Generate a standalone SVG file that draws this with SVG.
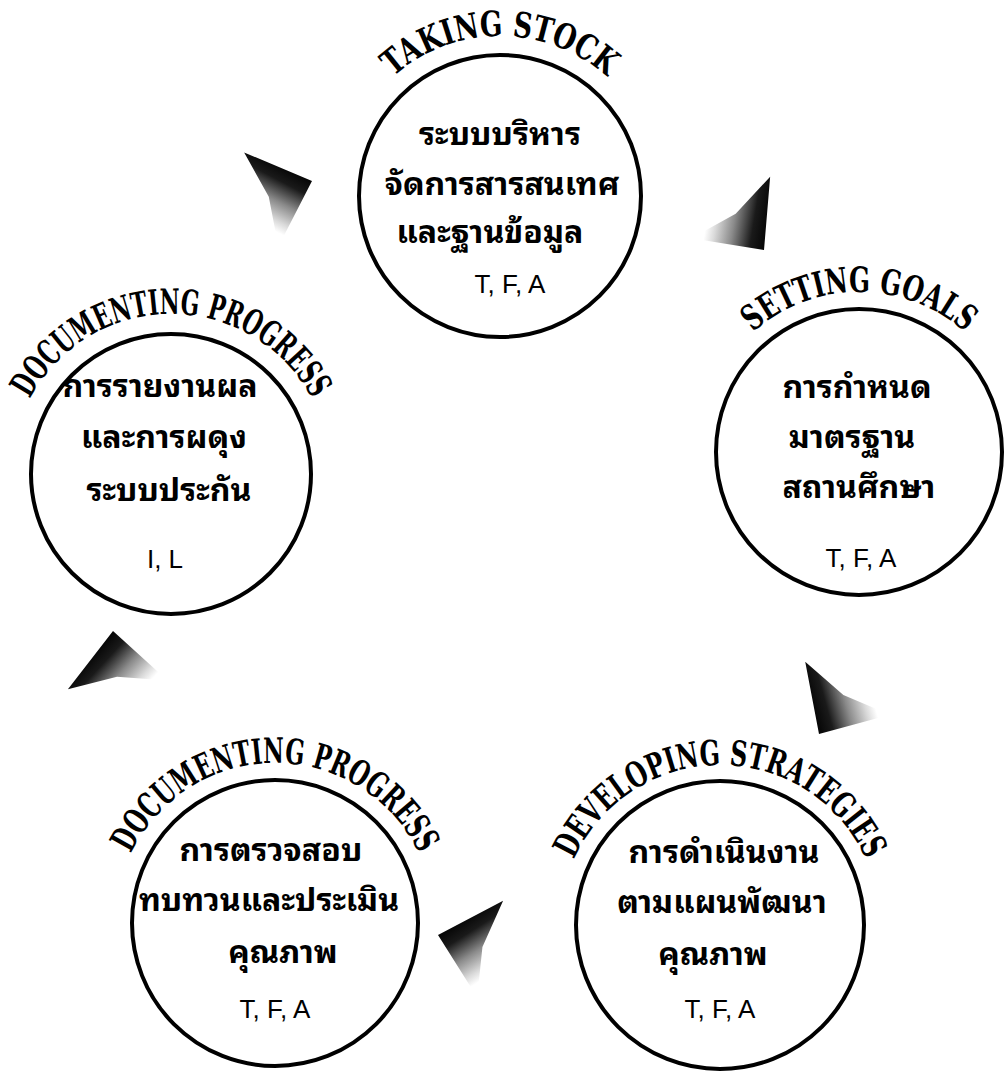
<svg xmlns="http://www.w3.org/2000/svg" xmlns:xlink="http://www.w3.org/1999/xlink" width="1008" height="1073" viewBox="0 0 1008 1073">
<style>
.ring{fill:none;stroke:#000;stroke-width:4}
.th{font-family:"Noto Sans Thai Looped","Loma","Garuda","Tlwg Typo","Noto Sans Thai","Noto Sans Thai UI","DejaVu Sans","Noto Sans",sans-serif;font-size:32px;font-weight:bold;text-anchor:middle;fill:#000}
.lat{font-family:"Liberation Sans",Arial,sans-serif;font-size:26px;text-anchor:middle;fill:#000}
.title{font-family:"DejaVu Serif","Liberation Serif",serif;font-weight:bold;font-size:35px;fill:#000}
</style>
<defs>
<linearGradient id="fadeA" gradientUnits="userSpaceOnUse" x1="-6" y1="-12" x2="-54" y2="32">
<stop offset="0" stop-color="#000"/>
<stop offset="0.28" stop-color="#1a1a1a"/>
<stop offset="0.58" stop-color="#8a8a8a"/>
<stop offset="0.85" stop-color="#dadada"/>
<stop offset="1" stop-color="#fff"/>
</linearGradient>
<linearGradient id="fadeB" gradientUnits="userSpaceOnUse" x1="-6" y1="12" x2="-54" y2="-32">
<stop offset="0" stop-color="#000"/>
<stop offset="0.28" stop-color="#1a1a1a"/>
<stop offset="0.58" stop-color="#8a8a8a"/>
<stop offset="0.85" stop-color="#dadada"/>
<stop offset="1" stop-color="#fff"/>
</linearGradient>
<path id="dart" d="M0,0 L-54,-50 L-46,0 L-54,50 Z"/>
<path id="arc-top" d="M340,196 A160,160 0 0 1 660,196"/>
<path id="arc-right" d="M699,452 A160,160 0 0 1 1019,452"/>
<path id="arc-left" d="M11,474 A160,160 0 0 1 331,474"/>
<path id="arc-bl" d="M115,923 A160,160 0 0 1 435,923"/>
<path id="arc-br" d="M560,925 A160,160 0 0 1 880,925"/>
</defs>
<rect width="1008" height="1073" fill="#fff"/>
<g id="connectors">
<use xlink:href="#dart" fill="url(#fadeA)" transform="translate(312,181) rotate(-20)"/>
<use xlink:href="#dart" fill="url(#fadeA)" transform="translate(764,250) rotate(52)"/>
<use xlink:href="#dart" fill="url(#fadeB)" transform="translate(819,734) rotate(122)"/>
<use xlink:href="#dart" fill="url(#fadeB)" transform="translate(438,935) rotate(195)"/>
<use xlink:href="#dart" fill="url(#fadeA)" transform="translate(113,631) rotate(265)"/>
</g>
<g id="node-taking-stock">
<circle class="ring" cx="500" cy="196" r="141"/>
<text class="title"><textPath xlink:href="#arc-top" startOffset="50%" text-anchor="middle" textLength="234" lengthAdjust="spacingAndGlyphs">TAKING STOCK</textPath></text>
<text class="th" x="500" y="145">ระบบบริหาร</text>
<text class="th" x="502" y="195">จัดการสารสนเทศ</text>
<text class="th" x="490" y="243">และฐานข้อมูล</text>
<text class="lat" x="510" y="293">T, F, A</text>
</g>
<g id="node-setting-goals">
<circle class="ring" cx="859" cy="452" r="143"/>
<text class="title"><textPath xlink:href="#arc-right" startOffset="50%" text-anchor="middle" textLength="232" lengthAdjust="spacingAndGlyphs">SETTING GOALS</textPath></text>
<text class="th" x="857" y="398">การกำหนด</text>
<text class="th" x="852" y="448">มาตรฐาน</text>
<text class="th" x="859" y="498">สถานศึกษา</text>
<text class="lat" x="861" y="567">T, F, A</text>
</g>
<g id="node-developing-strategies">
<circle class="ring" cx="720" cy="925" r="144"/>
<text class="title"><textPath xlink:href="#arc-br" startOffset="50%" text-anchor="middle" textLength="368" lengthAdjust="spacingAndGlyphs">DEVELOPING STRATEGIES</textPath></text>
<text class="th" x="724" y="863">การดำเนินงาน</text>
<text class="th" x="722" y="913">ตามแผนพัฒนา</text>
<text class="th" x="713" y="965">คุณภาพ</text>
<text class="lat" x="720" y="1018">T, F, A</text>
</g>
<g id="node-review">
<circle class="ring" cx="275" cy="923" r="143"/>
<text class="title"><textPath xlink:href="#arc-bl" startOffset="50%" text-anchor="middle" textLength="359" lengthAdjust="spacingAndGlyphs">DOCUMENTING PROGRESS</textPath></text>
<text class="th" x="271" y="861">การตรวจสอบ</text>
<text class="th" x="269" y="911">ทบทวนและประเมิน</text>
<text class="th" x="283" y="963">คุณภาพ</text>
<text class="lat" x="275" y="1018">T, F, A</text>
</g>
<g id="node-documenting-progress">
<circle class="ring" cx="171" cy="474" r="140"/>
<text class="title"><textPath xlink:href="#arc-left" startOffset="50%" text-anchor="middle" textLength="346" lengthAdjust="spacingAndGlyphs">DOCUMENTING PROGRESS</textPath></text>
<text class="th" x="160" y="397">การรายงานผล</text>
<text class="th" x="164" y="448">และการผดุง</text>
<text class="th" x="169" y="501">ระบบประกัน</text>
<text class="lat" x="165" y="568">I, L</text>
</g>
</svg>
